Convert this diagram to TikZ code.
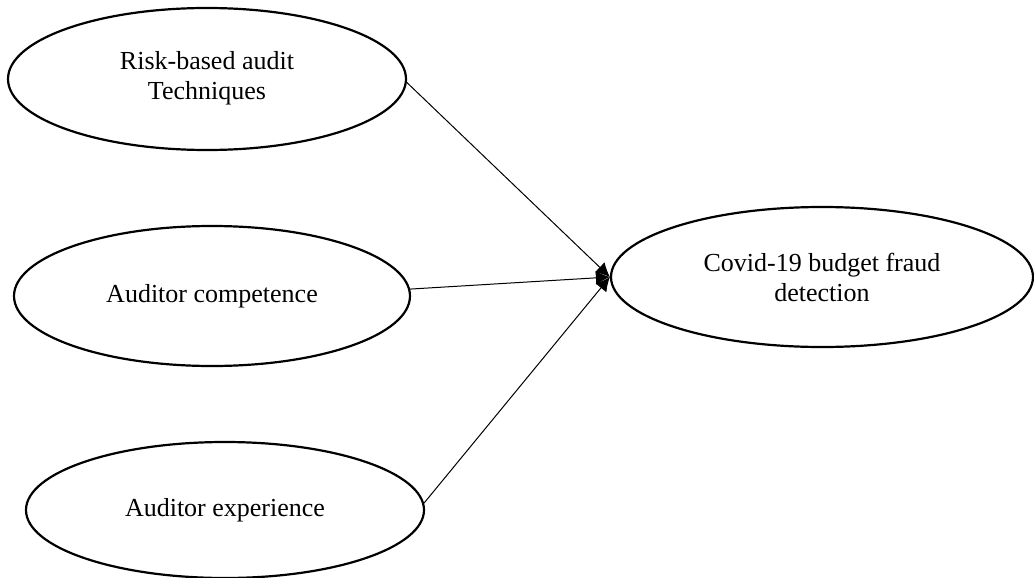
\documentclass[tikz,border=0pt]{standalone}
\usepackage{fontspec}
\setmainfont{Liberation Serif}
\usepackage{tikz}
\usetikzlibrary{shapes.geometric,arrows.meta}
\tikzstyle{construct}=[draw,ellipse,line width=1.1pt,inner sep=0pt,align=center,font=\fontsize{13}{15}\selectfont]

\begin{document}
\begin{tikzpicture}[x=0.5pt,y=-0.5pt,>={Latex[length=7pt,width=7pt]}]
\useasboundingbox (0,0) rectangle (1034,578);
\node [construct,minimum width=199pt,minimum height=71pt] (risk) at (207,79) {Risk-based audit\\Techniques\\[-11pt]};
\node [construct,minimum width=198pt,minimum height=70pt] (comp) at (212,296) {Auditor competence};
\node [construct,minimum width=199pt,minimum height=68pt] (exp) at (225,510) {Auditor experience};
\node [construct,minimum width=211pt,minimum height=70pt] (covid) at (822,277) {Covid-19 budget fraud\\detection};

%\coordinate (tip) at ([xshift=-2pt]covid.west);
\draw[->,line width=0.5pt] (risk.-1) -- (covid.west);
\draw[->,line width=0.5pt] (comp.2) -- (covid.west);
\draw[->,line width=0.5pt] (exp.2) -- (covid.west);
\end{tikzpicture}
\end{document}
